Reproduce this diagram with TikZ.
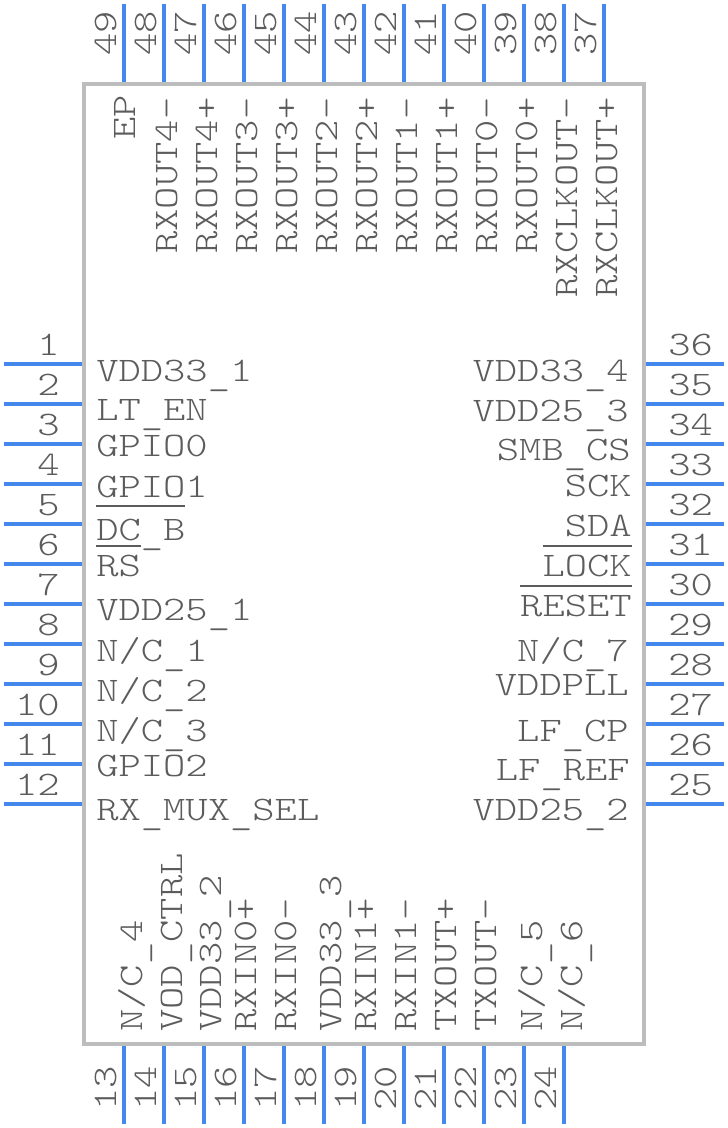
\documentclass[tikz,border=0pt]{standalone}
\usepackage{fontspec}
\usepackage{calc}
\newfontfamily\pinfont[FakeStretch=1.235]{Latin Modern Mono Light}
\definecolor{pinblue}{HTML}{4488EE}
\definecolor{bodygrey}{HTML}{BDBDBD}
\definecolor{textgrey}{HTML}{5C5C5C}
% bar over a pin name, raised by the optional length
\newcommand{\barred}[2][21.8pt]{\leavevmode\rlap{\smash{\raisebox{#1}{\color{textgrey}\rule{\widthof{#2}}{1.6pt}}}}#2}
% the underscore of this font sits too high
\newcommand{\us}{\raisebox{-3.2pt}{\_}}
\tikzset{
    pin/.style={pinblue, line width=3pt},
    body/.style={bodygrey, line width=3pt},
    txt/.style={textgrey, inner sep=0pt, font=\pinfont\fontsize{25.8pt}{30pt}\selectfont},
    lab west/.style={txt, anchor=base west},
    lab east/.style={txt, anchor=base east},
    lab up/.style={txt, anchor=base west, rotate=90},
}

\begin{document}
\begin{tikzpicture}[x=0.75pt, y=-0.75pt]
    \useasboundingbox (0,0) rectangle (728,1128);

    \draw[body] (84,84) rectangle (644,1044);

    % left side
    \draw[pin] (4,364) -- (82,364);
    \draw[pin] (4,404) -- (82,404);
    \draw[pin] (4,444) -- (82,444);
    \draw[pin] (4,484) -- (82,484);
    \draw[pin] (4,524) -- (82,524);
    \draw[pin] (4,564) -- (82,564);
    \draw[pin] (4,604) -- (82,604);
    \draw[pin] (4,644) -- (82,644);
    \draw[pin] (4,684) -- (82,684);
    \draw[pin] (4,724) -- (82,724);
    \draw[pin] (4,764) -- (82,764);
    \draw[pin] (4,804) -- (82,804);

    \node[lab east] (num1) at (60,355) {1};
    \node[lab east] (num2) at (60,395) {2};
    \node[lab east] (num3) at (60,435) {3};
    \node[lab east] (num4) at (60,475) {4};
    \node[lab east] (num5) at (60,515) {5};
    \node[lab east] (num6) at (60,555) {6};
    \node[lab east] (num7) at (60,595) {7};
    \node[lab east] (num8) at (60,635) {8};
    \node[lab east] (num9) at (60,675) {9};
    \node[lab east] (num10) at (60,715) {10};
    \node[lab east] (num11) at (60,755) {11};
    \node[lab east] (num12) at (60,795) {12};

    \node[lab west] (vddl1) at (96,381) {VDD33\us 1};
    \node[lab west] (lten) at (96,420) {LT\us EN};
    \node[lab west] (gpio0) at (96,456) {GPIO0};
    \node[lab west] (gpio1) at (96,497) {GPIO1};
    \node[lab west] (dcb) at (96,540) {\barred[25pt]{DC\us B}};
    \node[lab west] (rs) at (96,576) {\barred{RS}};
    \node[lab west] (vddl7) at (96,620) {VDD25\us 1};
    \node[lab west] (nc1) at (96,661) {N/C\us 1};
    \node[lab west] (nc2) at (96,701) {N/C\us 2};
    \node[lab west] (nc3) at (96,741) {N/C\us 3};
    \node[lab west] (gpio2) at (96,776) {GPIO2};
    \node[lab west] (muxsel) at (96,820) {RX\us MUX\us SEL};

    % right side
    \draw[pin] (646,364) -- (724,364);
    \draw[pin] (646,404) -- (724,404);
    \draw[pin] (646,444) -- (724,444);
    \draw[pin] (646,484) -- (724,484);
    \draw[pin] (646,524) -- (724,524);
    \draw[pin] (646,564) -- (724,564);
    \draw[pin] (646,604) -- (724,604);
    \draw[pin] (646,644) -- (724,644);
    \draw[pin] (646,684) -- (724,684);
    \draw[pin] (646,724) -- (724,724);
    \draw[pin] (646,764) -- (724,764);
    \draw[pin] (646,804) -- (724,804);

    \node[lab west] (num36) at (668,355) {36};
    \node[lab west] (num35) at (668,395) {35};
    \node[lab west] (num34) at (668,435) {34};
    \node[lab west] (num33) at (668,475) {33};
    \node[lab west] (num32) at (668,515) {32};
    \node[lab west] (num31) at (668,555) {31};
    \node[lab west] (num30) at (668,595) {30};
    \node[lab west] (num29) at (668,635) {29};
    \node[lab west] (num28) at (668,675) {28};
    \node[lab west] (num27) at (668,715) {27};
    \node[lab west] (num26) at (668,755) {26};
    \node[lab west] (num25) at (668,795) {25};

    \node[lab east] (vddr36) at (629,381) {VDD33\us 4};
    \node[lab east] (vddr35) at (629,421) {VDD25\us 3};
    \node[lab east] (smbcs) at (631,460) {SMB\us CS};
    \node[lab east] (sck) at (632,496) {SCK};
    \node[lab east] (sda) at (632,536) {SDA};
    \node[lab east] (lock) at (632,576) {\barred{LOCK}};
    \node[lab east] (reset) at (632,616) {\barred{RESET}};
    \node[lab east] (nc7) at (629,661) {N/C\us 7};
    \node[lab east] (vddpll) at (629,695) {VDDPLL};
    \node[lab east] (lfcp) at (629,741) {LF\us CP};
    \node[lab east] (lfref) at (630,780) {LF\us REF};
    \node[lab east] (vddr25) at (629,820) {VDD25\us 2};

    % bottom side
    \draw[pin] (124,1046) -- (124,1124);
    \draw[pin] (164,1046) -- (164,1124);
    \draw[pin] (204,1046) -- (204,1124);
    \draw[pin] (244,1046) -- (244,1124);
    \draw[pin] (284,1046) -- (284,1124);
    \draw[pin] (324,1046) -- (324,1124);
    \draw[pin] (364,1046) -- (364,1124);
    \draw[pin] (404,1046) -- (404,1124);
    \draw[pin] (444,1046) -- (444,1124);
    \draw[pin] (484,1046) -- (484,1124);
    \draw[pin] (524,1046) -- (524,1124);
    \draw[pin] (564,1046) -- (564,1124);

    \node[lab up] (num13) at (116,1111) {13};
    \node[lab up] (num14) at (156,1111) {14};
    \node[lab up] (num15) at (196,1111) {15};
    \node[lab up] (num16) at (236,1111) {16};
    \node[lab up] (num17) at (276,1111) {17};
    \node[lab up] (num18) at (316,1111) {18};
    \node[lab up] (num19) at (356,1111) {19};
    \node[lab up] (num20) at (396,1111) {20};
    \node[lab up] (num21) at (436,1111) {21};
    \node[lab up] (num22) at (476,1111) {22};
    \node[lab up] (num23) at (516,1111) {23};
    \node[lab up] (num24) at (556,1111) {24};

    \node[lab up] (nc4) at (142,1032) {N/C\us 4};
    \node[lab up] (vodctrl) at (182,1032) {VOD\us CTRL};
    \node[lab up] (vddb15) at (221,1032) {VDD33\us 2};
    \node[lab up] (rxinp0) at (256,1032) {RXIN0+};
    \node[lab up] (rxinm0) at (296,1032) {RXIN0-};
    \node[lab up] (vddb18) at (341,1032) {VDD33\us 3};
    \node[lab up] (rxinp1) at (376,1032) {RXIN1+};
    \node[lab up] (rxinm1) at (416,1032) {RXIN1-};
    \node[lab up] (txoutp) at (456,1032) {TXOUT+};
    \node[lab up] (txoutm) at (496,1032) {TXOUT-};
    \node[lab up] (nc5) at (542,1032) {N/C\us 5};
    \node[lab up] (nc6) at (582,1032) {N/C\us 6};

    % top side
    \draw[pin] (124,4) -- (124,82);
    \draw[pin] (164,4) -- (164,82);
    \draw[pin] (204,4) -- (204,82);
    \draw[pin] (244,4) -- (244,82);
    \draw[pin] (284,4) -- (284,82);
    \draw[pin] (324,4) -- (324,82);
    \draw[pin] (364,4) -- (364,82);
    \draw[pin] (404,4) -- (404,82);
    \draw[pin] (444,4) -- (444,82);
    \draw[pin] (484,4) -- (484,82);
    \draw[pin] (524,4) -- (524,82);
    \draw[pin] (564,4) -- (564,82);
    \draw[pin] (604,4) -- (604,82);

    \node[lab up] (num49) at (116,56) {49};
    \node[lab up] (num48) at (156,56) {48};
    \node[lab up] (num47) at (196,56) {47};
    \node[lab up] (num46) at (236,56) {46};
    \node[lab up] (num45) at (276,56) {45};
    \node[lab up] (num44) at (316,56) {44};
    \node[lab up] (num43) at (356,56) {43};
    \node[lab up] (num42) at (396,56) {42};
    \node[lab up] (num41) at (436,56) {41};
    \node[lab up] (num40) at (476,56) {40};
    \node[lab up] (num39) at (516,56) {39};
    \node[lab up] (num38) at (556,56) {38};
    \node[lab up] (num37) at (596,56) {37};

    \node[lab up] (ep) at (135,140) {EP};
    \node[lab up] (rxoutm4) at (177,254) {RXOUT4-};
    \node[lab up] (rxoutp4) at (217,254) {RXOUT4+};
    \node[lab up] (rxoutm3) at (257,254) {RXOUT3-};
    \node[lab up] (rxoutp3) at (297,254) {RXOUT3+};
    \node[lab up] (rxoutm2) at (337,254) {RXOUT2-};
    \node[lab up] (rxoutp2) at (377,254) {RXOUT2+};
    \node[lab up] (rxoutm1) at (417,254) {RXOUT1-};
    \node[lab up] (rxoutp1) at (457,254) {RXOUT1+};
    \node[lab up] (rxoutm0) at (497,254) {RXOUT0-};
    \node[lab up] (rxoutp0) at (537,254) {RXOUT0+};
    \node[lab up] (rxclkm) at (577,298) {RXCLKOUT-};
    \node[lab up] (rxclkp) at (617,298) {RXCLKOUT+};
\end{tikzpicture}
\end{document}
